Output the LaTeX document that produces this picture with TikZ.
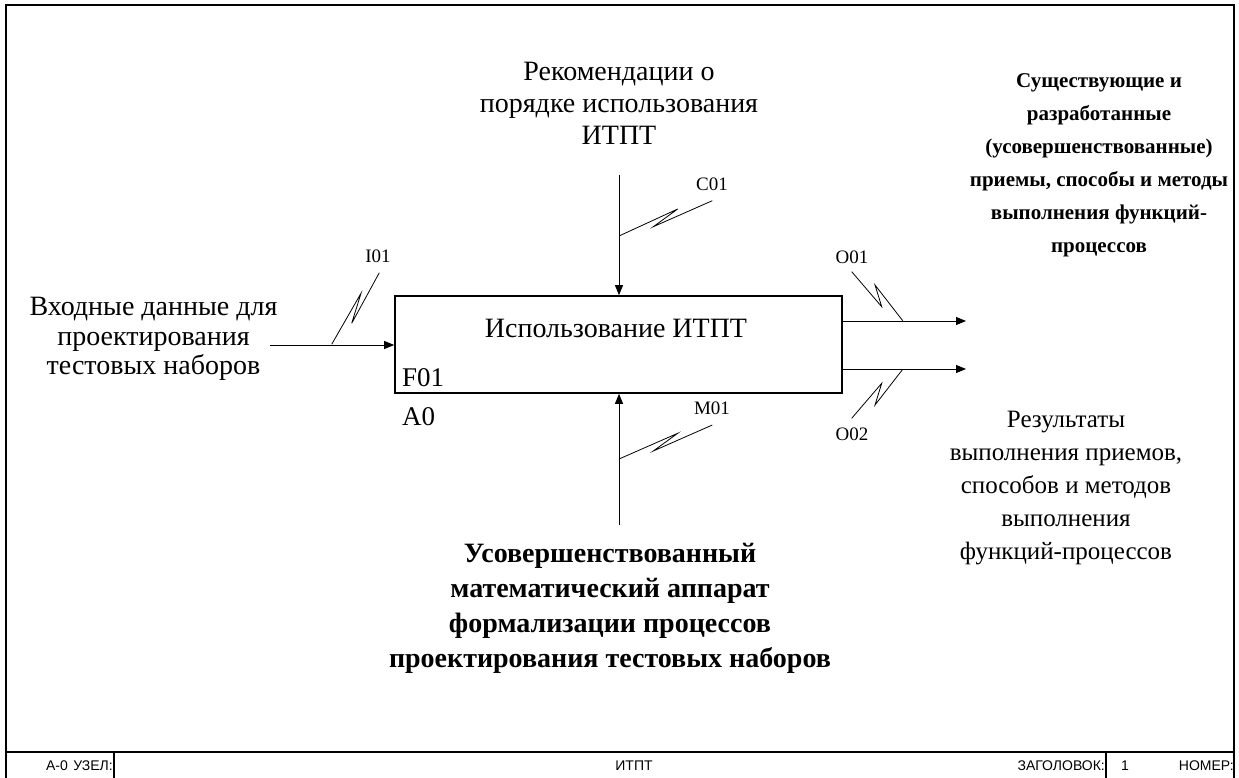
\documentclass[tikz,border=0pt]{standalone}
\usepackage{fontspec}
\setmainfont{Liberation Serif}
\newfontfamily\footfont{Liberation Sans}
\usetikzlibrary{arrows.meta,calc}
\begin{document}
\begin{tikzpicture}[x=1pt,y=-1pt,
  arr/.style={line width=0.9pt,-{Triangle[length=10pt,width=8pt]}},
  squig/.style={line width=0.8pt},
  txt/.style={align=center,inner sep=0pt,font=\fontsize{28}{30.5}\selectfont},
  btxt/.style={align=center,inner sep=0pt,font=\fontsize{21}{33}\selectfont\bfseries},
  lab/.style={inner sep=0pt,font=\fontsize{19}{20}\selectfont},
  foot/.style={inner sep=0pt,anchor=base,font=\fontsize{14}{16}\selectfont\footfont},
  framel/.style={line width=1.6pt}]
\useasboundingbox (0,0) rectangle (1239,778);
% frame
\draw[framel] (6,800) -- (6,5) -- (1234,5) -- (1234,800);
\draw[line width=1.2pt] (6,752) -- (1234,752);
\draw[line width=1.2pt] (114,752) -- (114,778);
\draw[line width=1.2pt] (1106,752) -- (1106,778);
\node[foot,anchor=base east] (fa) at (68,770) {А-0};
\node[foot,anchor=base east] (fu) at (113,770) {УЗЕЛ:};
\node[foot] (fi) at (634,770) {ИТПТ};
\node[foot,anchor=base east] (fz) at (1105,770) {ЗАГОЛОВОК:};
\node[foot] (fn) at (1125,770) {1};
\node[foot,anchor=base east] (fh) at (1234,770) {НОМЕР:};
% box
\node[draw,line width=1.6pt,minimum width=447pt,minimum height=97pt,inner sep=0pt] (f) at (618.5,344.5) {};
\node[inner sep=0pt,anchor=base,font=\fontsize{28}{30}\selectfont] (ft) at (616,337) {Использование ИТПТ};
\node[inner sep=0pt,anchor=base west,font=\fontsize{27}{30}\selectfont] (fid) at (402,386) {F01};
\node[inner sep=0pt,anchor=base west,font=\fontsize{27}{30}\selectfont] (fa0) at (402,425) {A0};
% free ends
\coordinate (cin) at (619,175);
\coordinate (min) at (619,525);
\coordinate (iin) at (270,345);
\coordinate (o1) at (966,321);
\coordinate (o2) at (966,369);
% arrows
\draw[arr] (cin) -- (cin |- f.north);
\draw[arr] (min) -- (min |- f.south);
\draw[arr] (iin) -- (iin -| f.west);
\draw[arr] (o1 -| f.east) -- (o1);
\draw[arr] (o2 -| f.east) -- (o2);
% squiggles
\draw[squig] (619,236) -- (677.7,209) -- (653.3,226.7) -- (712.3,200.7);
\node[lab] (lc) at (712,184) {C01};
\draw[squig] (331.7,344.3) -- (361,293.3) -- (351.7,323.3) -- (379.3,272.7);
\node[lab] (li) at (378,256) {I01};
\draw[squig] (619,459) -- (677.7,433.3) -- (653.3,451) -- (712.3,425);
\node[lab] (lm) at (712,408) {M01};
\draw[squig] (851.7,271.7) -- (881.7,306.7) -- (875,285) -- (902.7,320.7);
\node[lab] (lo1) at (852,257) {O01};
\draw[squig] (851.7,418.3) -- (881.7,383.3) -- (875,405) -- (902.7,369.3);
\node[lab] (lo2) at (852,434) {O02};
% texts
\node[txt,font=\fontsize{28}{32}\selectfont] (tc) at (619,103) {Рекомендации о\\порядке использования\\ИТПТ};
\node[txt,font=\fontsize{28}{29.5}\selectfont] (ti) at (153.5,339) {Входные данные для\\проектирования\\тестовых наборов};
\node[btxt] (to1) at (1099,165) {Существующие и\\разработанные\\(усовершенствованные)\\приемы, способы и методы\\выполнения функций-\\процессов};
\node[txt,font=\fontsize{25}{33}\selectfont] (to2) at (1066,488) {Результаты\\выполнения приемов,\\способов и методов\\выполнения\\функций-процессов};
\node[btxt,font=\fontsize{28}{35}\selectfont\bfseries] (tm) at (610,608) {Усовершенствованный\\математический аппарат\\формализации процессов\\проектирования тестовых наборов};
\end{tikzpicture}
\end{document}
